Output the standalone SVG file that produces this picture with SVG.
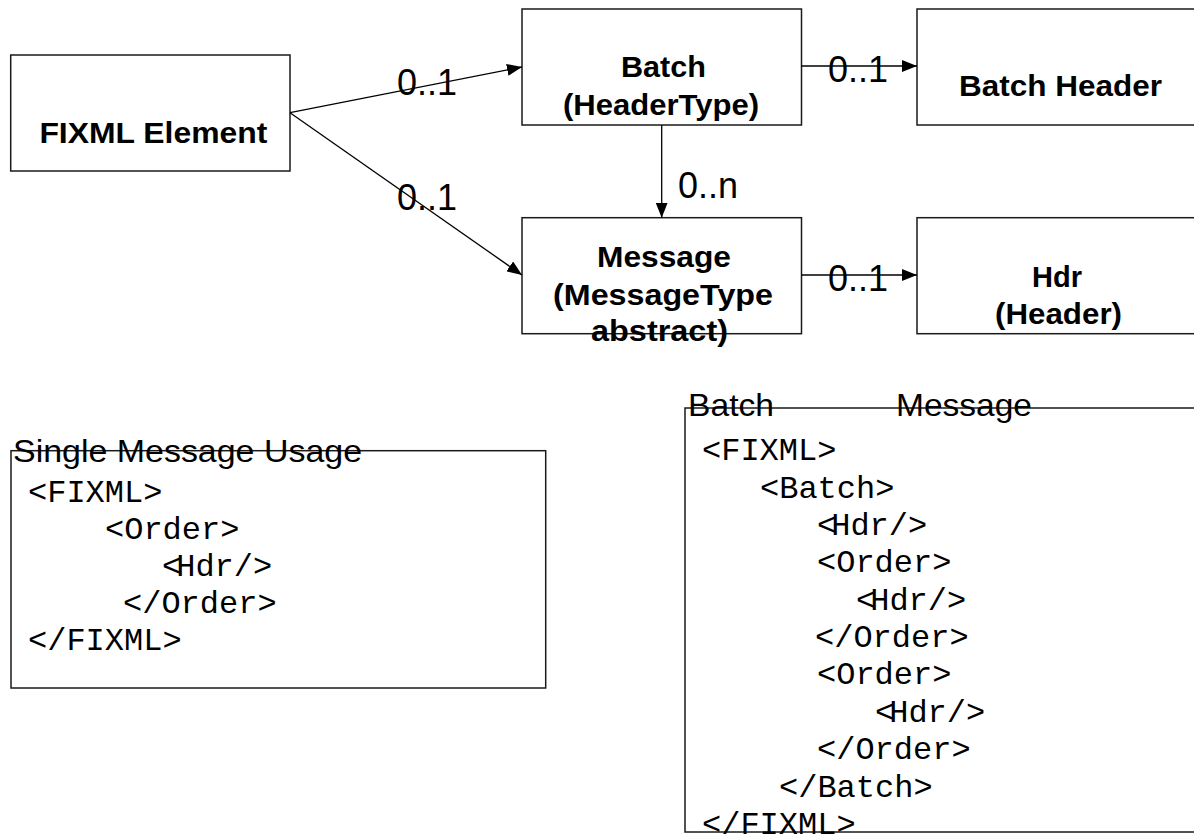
<svg xmlns="http://www.w3.org/2000/svg" width="1194" height="834" viewBox="0 0 1194 834">
  <style>
    .box { fill: #ffffff; stroke: #1a1a1a; stroke-width: 1.5; }
    .frame { fill: none; stroke: #1a1a1a; stroke-width: 1.5; }
    .lbl { font-family: "Liberation Sans", Arial, sans-serif; font-weight: bold; font-size: 29px; fill: #000; }
    .card { font-family: "Liberation Sans", Arial, sans-serif; font-size: 36px; fill: #000; }
    .title { font-family: "Liberation Sans", Arial, sans-serif; font-size: 32px; fill: #000; }
    .code { font-family: "Liberation Mono", "Courier New", monospace; font-size: 32px; fill: #000; }
    .edge { stroke: #000; stroke-width: 1.3; fill: none; marker-end: url(#arrow); }
  </style>
  <defs>
    <marker id="arrow" markerUnits="userSpaceOnUse" markerWidth="15" markerHeight="12" refX="15" refY="6" orient="auto">
      <path d="M0,0 L15,6 L0,12 z" fill="#000"/>
    </marker>
  </defs>

  <!-- class boxes -->
  <g id="fixml-element">
    <rect class="box" x="10.7" y="55" width="279.3" height="116"/>
    <text class="lbl" x="39.4" y="143" textLength="228" lengthAdjust="spacingAndGlyphs">FIXML Element</text>
  </g>
  <g id="batch">
    <rect class="box" x="522" y="9" width="279.5" height="116"/>
    <text class="lbl" x="621" y="77" textLength="85" lengthAdjust="spacingAndGlyphs">Batch</text>
    <text class="lbl" x="563" y="115" textLength="196" lengthAdjust="spacingAndGlyphs">(HeaderType)</text>
  </g>
  <g id="batch-header">
    <rect class="box" x="917" y="9" width="290" height="116"/>
    <text class="lbl" x="959" y="96" textLength="203" lengthAdjust="spacingAndGlyphs">Batch Header</text>
  </g>
  <g id="message">
    <rect class="box" x="522" y="217.7" width="279.5" height="116"/>
    <text class="lbl" x="597" y="267" textLength="134" lengthAdjust="spacingAndGlyphs">Message</text>
    <text class="lbl" x="553" y="305" textLength="220" lengthAdjust="spacingAndGlyphs">(MessageType</text>
    <text class="lbl" x="591" y="341" textLength="137" lengthAdjust="spacingAndGlyphs">abstract)</text>
  </g>
  <g id="hdr">
    <rect class="box" x="917" y="217.7" width="290" height="116"/>
    <text class="lbl" x="1032" y="287" textLength="50" lengthAdjust="spacingAndGlyphs">Hdr</text>
    <text class="lbl" x="995" y="324" textLength="127" lengthAdjust="spacingAndGlyphs">(Header)</text>
  </g>

  <!-- associations with multiplicities -->
  <g id="connectors">
    <line class="edge" x1="290" y1="112.7" x2="522" y2="67"/>
    <line class="edge" x1="290" y1="112.7" x2="522" y2="275"/>
    <line class="edge" x1="661.7" y1="125" x2="661.7" y2="217.7"/>
    <line class="edge" x1="801.5" y1="66" x2="917" y2="66"/>
    <line class="edge" x1="801.5" y1="275" x2="917" y2="275"/>
    <text class="card" x="397" y="95">0..1</text>
    <text class="card" x="397" y="210">0..1</text>
    <text class="card" x="828" y="82">0..1</text>
    <text class="card" x="828" y="291">0..1</text>
    <text class="card" x="678" y="198">0..n</text>
  </g>

  <!-- single message sample -->
  <g id="single-message-usage">
    <rect class="frame" x="11" y="450.7" width="534.7" height="237.3"/>
    <text class="title" x="13" y="462" textLength="349" lengthAdjust="spacingAndGlyphs">Single Message Usage</text>
    <text class="code" x="28" y="502">&lt;FIXML&gt;</text>
    <text class="code" x="105" y="539">&lt;Order&gt;</text>
    <text class="code" x="162" y="576">&lt;<tspan dx="-5">Hdr/&gt;</tspan></text>
    <text class="code" x="123" y="613">&lt;/Order&gt;</text>
    <text class="code" x="28" y="650">&lt;/FIXML&gt;</text>
  </g>

  <!-- batch sample -->
  <g id="batch-message-usage">
    <rect class="frame" x="685" y="408" width="520" height="424"/>
    <text class="title" x="688" y="416" textLength="86" lengthAdjust="spacingAndGlyphs">Batch</text>
    <text class="title" x="896" y="416" textLength="136" lengthAdjust="spacingAndGlyphs">Message</text>
    <text class="code" x="702" y="460">&lt;FIXML&gt;</text>
    <text class="code" x="760" y="497.5">&lt;Batch&gt;</text>
    <text class="code" x="817" y="535">&lt;<tspan dx="-5">Hdr/&gt;</tspan></text>
    <text class="code" x="817" y="572">&lt;Order&gt;</text>
    <text class="code" x="856" y="609.5">&lt;<tspan dx="-5">Hdr/&gt;</tspan></text>
    <text class="code" x="815" y="647">&lt;/Order&gt;</text>
    <text class="code" x="817" y="684">&lt;Order&gt;</text>
    <text class="code" x="875" y="721.5">&lt;<tspan dx="-5">Hdr/&gt;</tspan></text>
    <text class="code" x="817" y="759">&lt;/Order&gt;</text>
    <text class="code" x="779" y="796.5">&lt;/Batch&gt;</text>
    <text class="code" x="702" y="834">&lt;/FIXML&gt;</text>
  </g>
</svg>
